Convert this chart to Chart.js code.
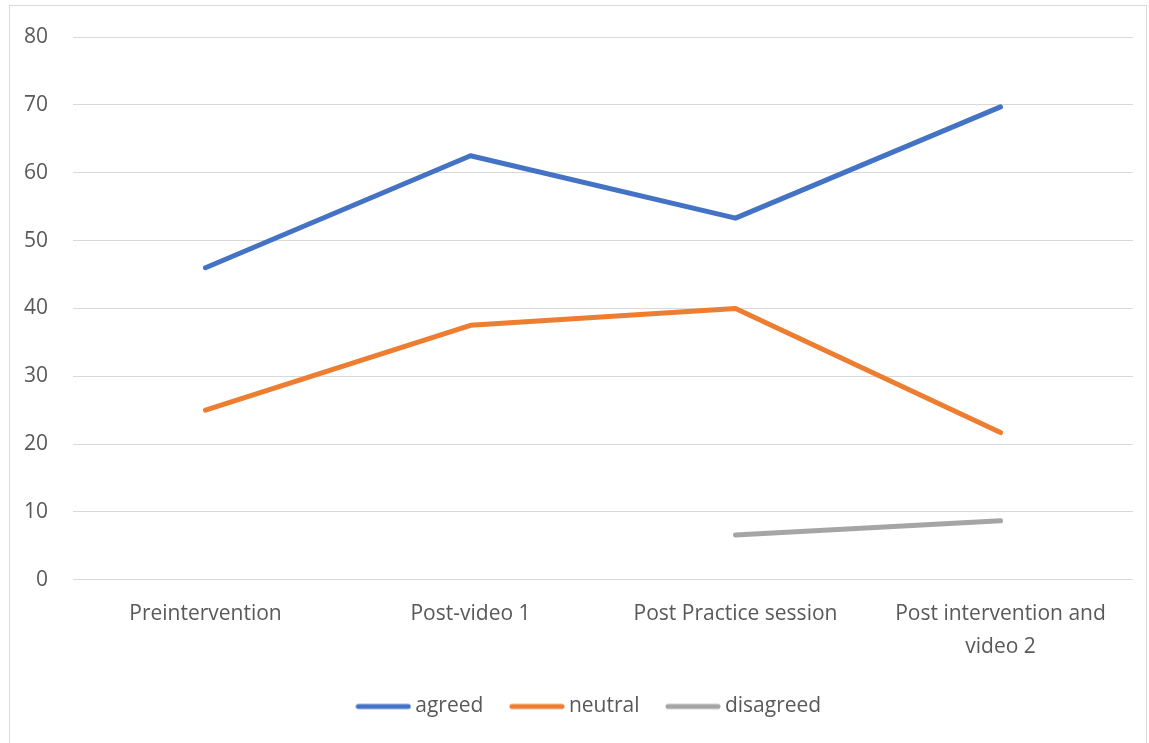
<!DOCTYPE html>
<html>
<head>
<meta charset="utf-8">
<script src="https://cdn.jsdelivr.net/npm/chart.js@4/dist/chart.umd.min.js"></script>
<style>
  html, body { margin: 0; padding: 0; background: #ffffff; }
  #frame {
    position: absolute; left: 9px; top: 5px;
    width: 1136px; height: 745px;
    border: 1px solid #d9d9d9; background: #ffffff;
  }
  #chart { display: block; }
</style>
</head>
<body>
<div id="frame"><canvas id="chart" width="1136" height="745"></canvas></div>
<script>
// Survey stages
const categories = [
  "Preintervention",
  "Post-video 1",
  "Post Practice session",
  ["Post intervention and", "video 2"]
];

// Percentages per response group
const agreed    = [46, 62.5, 53.3, 69.7];
const neutral   = [25, 37.5, 40, 21.7];
const disagreed = [null, null, 6.6, 8.7];

const yTicks = [0, 10, 20, 30, 40, 50, 60, 70, 80];

const FONT = "'Open Sans', 'Noto Sans', sans-serif";
const TEXT = "#595959";

// Short rounded stroke used as the legend symbol
function legendStroke(color) {
  const c = document.createElement("canvas");
  c.width = 56;
  c.height = 8;
  const g = c.getContext("2d");
  g.strokeStyle = color;
  g.lineWidth = 5;
  g.lineCap = "round";
  g.beginPath();
  g.moveTo(3, 4);
  g.lineTo(53, 4);
  g.stroke();
  return c;
}

function lineSet(label, data, color) {
  return {
    label: label,
    data: data,
    borderColor: color,
    backgroundColor: color,
    borderWidth: 5,
    borderCapStyle: "round",
    borderJoinStyle: "round",
    pointRadius: 0,
    pointHoverRadius: 0,
    tension: 0,
    spanGaps: false,
    pointStyle: legendStroke(color)
  };
}

// Nudge the legend row a little to the right of the canvas centre
const legendShift = {
  id: "legendShift",
  afterLayout(chart) {
    if (chart.legend) {
      chart.legend.left += 20;
      chart.legend.right += 20;
    }
  }
};

new Chart(document.getElementById("chart"), {
  type: "line",
  data: {
    labels: categories,
    datasets: [
      lineSet("agreed", agreed, "#4472C4"),
      lineSet("neutral", neutral, "#ED7D31"),
      lineSet("disagreed", disagreed, "#A5A5A5")
    ]
  },
  plugins: [legendShift],
  options: {
    responsive: false,
    animation: false,
    layout: { padding: { top: 31, right: 13, bottom: 24, left: 0 } },
    plugins: {
      tooltip: { enabled: false },
      legend: {
        position: "bottom",
        labels: {
          usePointStyle: true,
          pointStyleWidth: 43,
          boxHeight: 5,
          padding: 32,
          color: TEXT,
          font: { family: FONT, size: 21 }
        }
      }
    },
    scales: {
      x: {
        offset: true,
        afterFit: (scale) => { scale.height -= 17; },
        grid: { display: false, drawTicks: false },
        border: { display: false },
        ticks: {
          color: TEXT,
          maxRotation: 0,
          autoSkip: false,
          padding: 17,
          font: { family: FONT, size: 21, lineHeight: 1.6 }
        }
      },
      y: {
        min: 0,
        max: 80,
        afterFit: (scale) => {
          scale.width = 63;
          scale.paddingTop = 0;
          scale.paddingBottom = 0;
        },
        afterBuildTicks: (scale) => { scale.ticks = yTicks.map(v => ({ value: v })); },
        grid: { color: "#D9D9D9", lineWidth: 1, drawTicks: false },
        border: { display: false },
        ticks: {
          color: TEXT,
          padding: 25,
          font: { family: FONT, size: 21 }
        }
      }
    }
  }
});
</script>
</body>
</html>
